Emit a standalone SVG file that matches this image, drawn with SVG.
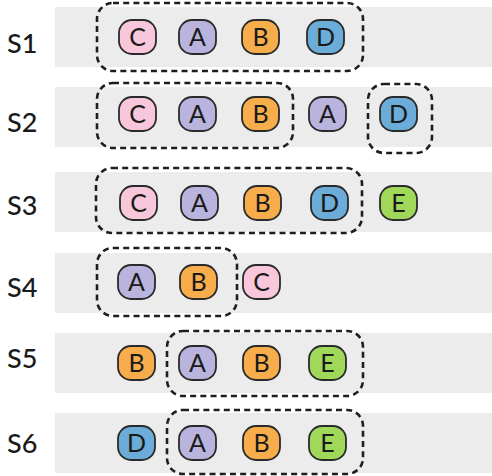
<svg xmlns="http://www.w3.org/2000/svg" width="492" height="476" viewBox="0 0 492 476">
<defs>
<style>
.band{fill:#ececec}
.lbl{font-family:Lato,"Open Sans",sans-serif;font-size:27px;font-weight:500;fill:#1a1a1a}
.n rect{stroke:#2a2a2a;stroke-width:1.8}
.n text{font-family:Lato,"Open Sans",sans-serif;font-size:25px;fill:#1a1a1a;text-anchor:middle}
.C rect{fill:#f8c7dc}
.A rect{fill:#b9b4dd}
.B rect{fill:#f8ad4c}
.D rect{fill:#6badd8}
.E rect{fill:#a0d95a}
.grp{fill:none;stroke:#1e1e1e;stroke-width:2.6;stroke-dasharray:6 4.2}
</style>
</defs>
<rect width="492" height="476" fill="#ffffff"/>
<g id="bands">
<rect class="band" x="55" y="7" width="437" height="60"/>
<rect class="band" x="55" y="87" width="437" height="60"/>
<rect class="band" x="55" y="172" width="437" height="60"/>
<rect class="band" x="55" y="253" width="437" height="60"/>
<rect class="band" x="55" y="333" width="437" height="60"/>
<rect class="band" x="55" y="413" width="437" height="60"/>
</g>
<g id="labels">
<text class="lbl" x="7" y="53">S1</text>
<text class="lbl" x="7" y="132">S2</text>
<text class="lbl" x="7" y="215">S3</text>
<text class="lbl" x="7" y="297">S4</text>
<text class="lbl" x="7" y="368">S5</text>
<text class="lbl" x="7" y="453">S6</text>
</g>
<g id="s1">
<g id="s1-C" class="n C"><rect x="119" y="20" width="37" height="34" rx="13"/><text x="137.5" y="46">C</text></g>
<g id="s1-A" class="n A"><rect x="179" y="20" width="37" height="34" rx="13"/><text x="197.5" y="46">A</text></g>
<g id="s1-B" class="n B"><rect x="242" y="20" width="37" height="34" rx="13"/><text x="260.5" y="46">B</text></g>
<g id="s1-D" class="n D"><rect x="307" y="20" width="37" height="34" rx="13"/><text x="325.5" y="46">D</text></g>
</g>
<g id="s2">
<g id="s2-C" class="n C"><rect x="119" y="97" width="37" height="34" rx="13"/><text x="137.5" y="123">C</text></g>
<g id="s2-A" class="n A"><rect x="179" y="97" width="37" height="34" rx="13"/><text x="197.5" y="123">A</text></g>
<g id="s2-B" class="n B"><rect x="242" y="97" width="37" height="34" rx="13"/><text x="260.5" y="123">B</text></g>
<g id="s2-A2" class="n A"><rect x="309" y="97" width="37" height="34" rx="13"/><text x="327.5" y="123">A</text></g>
<g id="s2-D" class="n D"><rect x="380" y="97" width="37" height="34" rx="13"/><text x="398.5" y="123">D</text></g>
</g>
<g id="s3">
<g id="s3-C" class="n C"><rect x="120" y="186" width="37" height="34" rx="13"/><text x="138.5" y="212">C</text></g>
<g id="s3-A" class="n A"><rect x="181" y="186" width="37" height="34" rx="13"/><text x="199.5" y="212">A</text></g>
<g id="s3-B" class="n B"><rect x="244" y="186" width="37" height="34" rx="13"/><text x="262.5" y="212">B</text></g>
<g id="s3-D" class="n D"><rect x="311" y="186" width="37" height="34" rx="13"/><text x="329.5" y="212">D</text></g>
<g id="s3-E" class="n E"><rect x="380" y="186" width="37" height="34" rx="13"/><text x="398.5" y="212">E</text></g>
</g>
<g id="s4">
<g id="s4-A" class="n A"><rect x="118" y="265" width="37" height="34" rx="13"/><text x="136.5" y="291">A</text></g>
<g id="s4-B" class="n B"><rect x="180" y="265" width="37" height="34" rx="13"/><text x="198.5" y="291">B</text></g>
<g id="s4-C" class="n C"><rect x="243" y="265" width="37" height="34" rx="13"/><text x="261.5" y="291">C</text></g>
</g>
<g id="s5">
<g id="s5-B" class="n B"><rect x="118" y="346" width="37" height="34" rx="13"/><text x="136.5" y="372">B</text></g>
<g id="s5-A" class="n A"><rect x="179" y="346" width="37" height="34" rx="13"/><text x="197.5" y="372">A</text></g>
<g id="s5-B2" class="n B"><rect x="243" y="346" width="37" height="34" rx="13"/><text x="261.5" y="372">B</text></g>
<g id="s5-E" class="n E"><rect x="309" y="346" width="37" height="34" rx="13"/><text x="327.5" y="372">E</text></g>
</g>
<g id="s6">
<g id="s6-D" class="n D"><rect x="118" y="426" width="37" height="34" rx="13"/><text x="136.5" y="452">D</text></g>
<g id="s6-A" class="n A"><rect x="179" y="426" width="37" height="34" rx="13"/><text x="197.5" y="452">A</text></g>
<g id="s6-B" class="n B"><rect x="243" y="426" width="37" height="34" rx="13"/><text x="261.5" y="452">B</text></g>
<g id="s6-E" class="n E"><rect x="309" y="426" width="37" height="34" rx="13"/><text x="327.5" y="452">E</text></g>
</g>
<g id="groups">
<rect class="grp" x="97" y="3" width="266" height="68" rx="16"/>
<rect class="grp" x="97" y="83" width="196" height="65" rx="16"/>
<rect class="grp" x="368" y="84" width="64" height="69" rx="16"/>
<rect class="grp" x="96" y="168" width="266" height="65" rx="16"/>
<rect class="grp" x="97" y="248" width="140" height="68" rx="16"/>
<rect class="grp" x="167" y="331" width="196" height="65" rx="16"/>
<rect class="grp" x="167" y="410" width="196" height="64" rx="16"/>
</g>
</svg>
